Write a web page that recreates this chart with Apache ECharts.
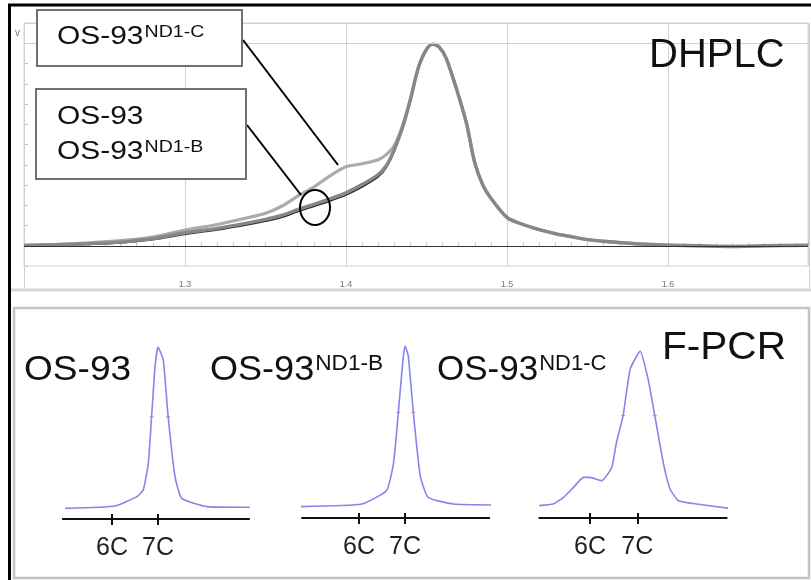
<!DOCTYPE html>
<html>
<head>
<meta charset="utf-8">
<script src="https://cdn.jsdelivr.net/npm/echarts@6/dist/echarts.min.js"></script>
<style>
  html, body { margin: 0; padding: 0; background: #fff; }
  #main { width: 811px; height: 580px; }
</style>
</head>
<body>
<div id="main"></div>
<script>
// DHPLC elution profiles (retention time, normalised signal)
const dhplcX = [1.20, 1.22, 1.24, 1.26, 1.28, 1.30, 1.32, 1.34, 1.35, 1.36, 1.37, 1.38, 1.39, 1.40, 1.41, 1.42, 1.425, 1.43, 1.435, 1.44, 1.445, 1.45, 1.454, 1.458, 1.462, 1.466, 1.47, 1.475, 1.48, 1.485, 1.49, 1.50, 1.51, 1.52, 1.53, 1.54, 1.55, 1.56, 1.58, 1.60, 1.62, 1.64, 1.66, 1.687];
const os93  = [0.1, 0.3, 0.7, 1.4, 3.0, 5.6, 7.8, 10.5, 12.1, 14.0, 16.8, 19.4, 22.0, 25.0, 29.0, 34.0, 38.5, 46.5, 58, 72, 88, 97, 99.5, 98, 93, 84, 74, 60, 41, 30, 23.5, 14, 10.5, 8, 6, 4.5, 3, 2.2, 1, 0.3, 0, -0.3, 0, 0.3];
const os93B = [0.2, 0.5, 1.0, 1.8, 3.5, 6.4, 8.6, 11.4, 13.0, 15.0, 17.8, 20.5, 23.2, 26.2, 30.2, 35.2, 39.5, 47.5, 58, 72, 88, 97, 99.5, 98, 93, 84, 74, 60, 41, 30, 23.5, 14, 10.5, 8, 6, 4.5, 3, 2.2, 1, 0.3, 0, -0.4, 0, 0.2];
const os93C = [0.2, 0.6, 1.4, 2.5, 4.3, 7.8, 10.5, 14.0, 16.0, 19.5, 24.5, 29.0, 34.5, 39.0, 40.5, 42.5, 45, 49.5, 59, 72.5, 88, 97, 99.5, 98, 93, 84, 74, 60, 41, 30, 23.5, 14, 10.5, 8, 6, 4.5, 3, 2.2, 1, 0.3, 0, -0.3, 0, 0.3];
const dhplcTicks = [1.3, 1.4, 1.5, 1.6];

// F-PCR fragment profiles (repeat length in C, normalised signal)
const pcrX1 = [4.98, 6.065, 6.54, 6.68, 6.79, 6.86, 6.935, 7.0, 7.115, 7.22, 7.37, 7.515, 8.06, 9.15];
const pcrY1 = [0.062, 0.076, 0.13, 0.17, 0.326, 0.595, 0.886, 1.0, 0.924, 0.595, 0.246, 0.12, 0.072, 0.068];
const pcrX2 = [4.73, 6.06, 6.6, 6.75, 6.855, 6.95, 7.0, 7.07, 7.18, 7.33, 7.5, 8.05, 8.88];
const pcrY2 = [0.066, 0.081, 0.16, 0.32, 0.614, 0.905, 1.0, 0.944, 0.614, 0.246, 0.12, 0.081, 0.076];
const pcrX3 = [4.93, 5.22, 5.44, 5.65, 5.86, 6.0, 6.25, 6.46, 6.56, 6.7, 6.85, 7.06, 7.23, 7.37, 7.55, 7.69, 7.87, 8.26, 8.96];
const pcrY3 = [0.072, 0.081, 0.12, 0.178, 0.236, 0.236, 0.217, 0.294, 0.44, 0.595, 0.866, 0.97, 0.805, 0.595, 0.32, 0.17, 0.1, 0.081, 0.056];
const halfMarks1 = [[6.86, 0.595], [7.22, 0.595]];
const halfMarks2 = [[6.855, 0.614], [7.18, 0.614]];
const halfMarks3 = [[6.7, 0.595], [7.37, 0.595]];
const pcrTicks = [6, 7];

const FONT = 'Liberation Sans, Arial, sans-serif';

function zip(xs, ys) {
  return xs.map((x, i) => [x, ys[i]]);
}

const chart = echarts.init(document.getElementById('main'));

// x axes for one F-PCR panel: one with outer ticks + labels, one with inner ticks
function pcrAxes(grid, min, max) {
  return [
    {
      type: 'value', gridIndex: grid, min: min, max: max, position: 'bottom',
      splitLine: { show: false },
      axisLine: { show: true, lineStyle: { color: '#111', width: 2 } },
      axisTick: { show: true, customValues: pcrTicks, length: 6, lineStyle: { color: '#111', width: 2 } },
      axisLabel: { show: true, customValues: pcrTicks, formatter: '{value}C', fontSize: 25, color: '#222', fontFamily: FONT, margin: 17 }
    },
    {
      type: 'value', gridIndex: grid, min: min, max: max, position: 'bottom',
      splitLine: { show: false },
      axisLine: { show: false },
      axisTick: { show: true, inside: true, customValues: pcrTicks, length: 5, lineStyle: { color: '#111', width: 2 } },
      axisLabel: { show: false }
    }
  ];
}

function pcrSeries(xIdx, yIdx, xs, ys, marks) {
  return [
    {
      type: 'line', xAxisIndex: xIdx, yAxisIndex: yIdx, data: zip(xs, ys),
      symbol: 'none', smooth: 0.15, clip: false,
      lineStyle: { color: '#8585ec', width: 1.6 }
    },
    {
      type: 'scatter', xAxisIndex: xIdx, yAxisIndex: yIdx, data: marks,
      symbol: 'rect', symbolSize: [4, 1.2], itemStyle: { color: '#e07070' }
    }
  ];
}

function label(x, y, main, sup, mainSize, supSize, sx, z) {
  return {
    type: 'text', x: x, y: y, scaleX: sx, z: z || 120,
    style: {
      text: sup ? '{m|' + main + '}{s|' + sup + '}' : '{m|' + main + '}',
      verticalAlign: 'middle',
      rich: {
        m: { fontSize: mainSize, fontFamily: FONT, fill: '#111', lineHeight: mainSize },
        s: { fontSize: supSize, fontFamily: FONT, fill: '#111', verticalAlign: 'top', padding: [0, 0, 0, 1] }
      }
    }
  };
}

const option = {
  backgroundColor: '#fff',
  animation: false,
  grid: [
    { left: 24, top: 23, width: 785.5, height: 243, show: true, borderColor: '#d2d2d2', borderWidth: 1 },
    { left: 62.8, top: 347, width: 186.3, height: 172 },
    { left: 302, top: 346, width: 187.2, height: 172 },
    { left: 539.4, top: 346, width: 187.3, height: 172 }
  ],
  xAxis: [
    {
      type: 'value', gridIndex: 0, min: 1.2, max: 1.687, interval: 0.1,
      axisLine: { show: true, lineStyle: { color: '#c8c8c8' } },
      axisTick: { show: true, inside: true, length: 5, lineStyle: { color: '#b8b8b8' } },
      minorTick: { show: true, splitNumber: 10, length: 3, lineStyle: { color: '#c0c0c0' } },
      splitLine: { show: true, lineStyle: { color: '#d4d4d4' } },
      axisLabel: {
        color: '#777', fontSize: 9, fontFamily: FONT, margin: 14, showMinLabel: false,
        formatter: v => (dhplcTicks.indexOf(Math.round(v * 10) / 10) >= 0 ? v.toFixed(1) : '')
      }
    },
    ...pcrAxes(1, 4.93, 8.98),
    ...pcrAxes(2, 4.76, 8.83),
    ...pcrAxes(3, 4.93, 8.89)
  ],
  yAxis: [
    {
      type: 'value', gridIndex: 0, min: -10, max: 110, interval: 10,
      axisLine: { show: false },
      axisTick: { show: true, inside: true, length: 4, lineStyle: { color: '#c4c4c4' } },
      axisLabel: { show: false },
      splitLine: { show: false }
    },
    { type: 'value', gridIndex: 1, min: 0, max: 1, show: false },
    { type: 'value', gridIndex: 2, min: 0, max: 1, show: false },
    { type: 'value', gridIndex: 3, min: 0, max: 1, show: false }
  ],
  series: [
    {
      name: 'OS-93 ND1-C', type: 'line', xAxisIndex: 0, yAxisIndex: 0,
      data: zip(dhplcX, os93C), symbol: 'none', smooth: 0.3,
      lineStyle: { color: '#ababab', width: 3.2 }
    },
    {
      name: 'OS-93', type: 'line', xAxisIndex: 0, yAxisIndex: 0,
      data: zip(dhplcX, os93), symbol: 'none', smooth: 0.3,
      lineStyle: { color: '#2e2e2e', width: 1.6 },
      markLine: {
        silent: true, symbol: 'none', label: { show: false },
        data: [
          { yAxis: 0, lineStyle: { color: '#333', width: 1, type: 'solid' } },
          { yAxis: 100, lineStyle: { color: '#d0d0d0', width: 1, type: 'solid' } }
        ]
      }
    },
    {
      name: 'OS-93 ND1-B', type: 'line', xAxisIndex: 0, yAxisIndex: 0,
      data: zip(dhplcX, os93B), symbol: 'none', smooth: 0.3,
      lineStyle: { color: '#878787', width: 3.4 }
    },
    ...pcrSeries(1, 1, pcrX1, pcrY1, halfMarks1),
    ...pcrSeries(3, 2, pcrX2, pcrY2, halfMarks2),
    ...pcrSeries(5, 3, pcrX3, pcrY3, halfMarks3)
  ],
  graphic: [
    // outer frame
    { type: 'line', z: 150, shape: { x1: 8, y1: 5, x2: 811, y2: 5 }, style: { stroke: '#000', lineWidth: 3 } },
    { type: 'line', z: 150, shape: { x1: 9.5, y1: 4, x2: 9.5, y2: 580 }, style: { stroke: '#000', lineWidth: 3 } },
    // top panel frame
    { type: 'rect', z: 1, shape: { x: 24.5, y: 23.5, width: 785, height: 266 }, style: { fill: 'none', stroke: '#d2d2d2', lineWidth: 1 } },
    { type: 'line', z: 1, shape: { x1: 11, y1: 290, x2: 811, y2: 290 }, style: { stroke: '#d6d6d6', lineWidth: 3 } },
    // bottom panel frame
    { type: 'rect', z: 1, shape: { x: 14, y: 308, width: 795, height: 270 }, style: { fill: 'none', stroke: '#c4c4c4', lineWidth: 2.5 } },
    { type: 'text', x: 15, y: 33, style: { text: 'v', fontSize: 10, fontFamily: FONT, fill: '#777', verticalAlign: 'middle' } },
    // leader lines and circle
    { type: 'line', z: 110, shape: { x1: 243, y1: 40, x2: 338, y2: 165 }, style: { stroke: '#000', lineWidth: 2 } },
    { type: 'line', z: 110, shape: { x1: 247, y1: 125, x2: 301, y2: 195 }, style: { stroke: '#000', lineWidth: 2 } },
    { type: 'ellipse', z: 110, shape: { cx: 315, cy: 207.5, rx: 15, ry: 17.5 }, style: { fill: 'none', stroke: '#000', lineWidth: 2 } },
    // legend boxes
    { type: 'rect', z: 115, shape: { x: 37, y: 10, width: 205, height: 56 }, style: { fill: '#fff', stroke: '#707070', lineWidth: 2 } },
    { type: 'rect', z: 115, shape: { x: 36, y: 89, width: 210, height: 90 }, style: { fill: '#fff', stroke: '#707070', lineWidth: 2 } },
    label(57, 36.5, 'OS-93', 'ND1-C', 26, 17, 1.15),
    label(57, 117, 'OS-93', '', 26, 17, 1.15),
    label(57, 152, 'OS-93', 'ND1-B', 26, 17, 1.15),
    // panel titles
    label(649, 56, 'DHPLC', '', 40, 20, 1.0),
    label(662, 348.5, 'F-PCR', '', 39, 20, 1.04),
    label(24, 370.5, 'OS-93', '', 35, 22, 1.06),
    label(210, 370.5, 'OS-93', 'ND1-B', 35, 22, 1.03),
    label(437, 370.5, 'OS-93', 'ND1-C', 35, 22, 1.0)
  ]
};

chart.setOption(option);
</script>
</body>
</html>
